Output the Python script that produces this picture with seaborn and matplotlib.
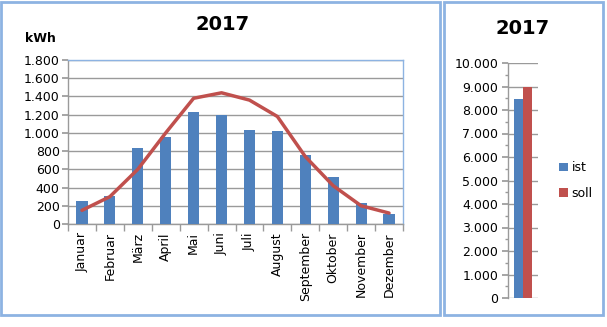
import matplotlib
matplotlib.use("Agg")
import matplotlib.pyplot as plt
import matplotlib.patches as mpatches
import seaborn as sns
import pandas as pd
import numpy as np

sns.set_theme(style="white")
plt.rcParams['font.family'] = ['DejaVu Sans']
plt.rcParams['text.color'] = 'black'
plt.rcParams['xtick.color'] = 'black'
plt.rcParams['ytick.color'] = 'black'

months = ["Januar", "Februar", "März", "April", "Mai", "Juni", "Juli",
          "August", "September", "Oktober", "November", "Dezember"]
ist = [250, 310, 835, 960, 1225, 1200, 1030, 1025, 760, 520, 230, 110]
soll = [150, 300, 600, 1000, 1380, 1440, 1360, 1180, 740, 420, 200, 120]
total_labels = ["ist", "soll"]
total_values = [8480, 8960]
title = "2017"
unit = "kWh"

BLUE = "#4F81BD"
RED = "#C0504D"
FRAME = "#8DB3E2"
GRID = "#9A9A9A"

W, H = 607, 327
fig = plt.figure(figsize=(W / 100, H / 100), dpi=100)

def fx(x):
    return x / W

def fy(y):
    return 1 - y / H

# frames
fig.patches.append(mpatches.Rectangle((fx(1.5), fy(315)), fx(438.5), (315 - 1.5) / H,
                                      transform=fig.transFigure, fill=False,
                                      edgecolor=FRAME, linewidth=2))
fig.patches.append(mpatches.Rectangle((fx(443.5), fy(315)), fx(159.5), (315 - 1.5) / H,
                                      transform=fig.transFigure, fill=False,
                                      edgecolor=FRAME, linewidth=2))

def fmt(v):
    return f"{int(v):,}".replace(",", ".")

# left chart
ax = fig.add_axes([fx(68), fy(224), fx(403 - 68), (224 - 60) / H])
df = pd.DataFrame({"Monat": months, "ist": ist, "soll": soll})
sns.barplot(data=df, x="Monat", y="ist", color=BLUE, width=0.4, ax=ax,
            saturation=1, linewidth=0, zorder=3)
sns.lineplot(x=np.arange(len(months)), y=soll, color=RED, linewidth=2.5, ax=ax,
             zorder=4)
ax.set_ylim(0, 1800)
ax.set_xlim(-0.5, len(months) - 0.5)
ax.set_yticks(range(0, 1801, 200))
ax.set_yticklabels([fmt(v) for v in range(0, 1801, 200)], fontsize=9)
ax.set_xticks(range(len(months)))
ax.set_xticklabels(months, rotation=90, fontsize=9)
ax.tick_params(axis="x", length=0, pad=6)
ax.tick_params(axis="y", length=4, color=GRID, left=True, pad=2)
ax.set_xticks(np.arange(-0.5, len(months), 1), minor=True)
ax.tick_params(axis="x", which="minor", length=5, color=GRID, bottom=True)
ax.grid(axis="y", color=GRID, linewidth=1, zorder=0)
ax.set_axisbelow(True)
ax.set_xlabel("")
ax.set_ylabel("")
for s in ["top", "right"]:
    ax.spines[s].set_color(FRAME)
    ax.spines[s].set_linewidth(1)
for s in ["left", "bottom"]:
    ax.spines[s].set_color(GRID)
    ax.spines[s].set_linewidth(1)
fig.text(fx(223), fy(25), title, ha="center", va="center", fontsize=14,
         fontweight="bold")
fig.text(fx(40), fy(39), unit, ha="center", va="center", fontsize=9,
         fontweight="bold")

# right chart
ax2 = fig.add_axes([fx(508), fy(298), fx(30), (298 - 63) / H])
dt = pd.DataFrame({"k": ["2017", "2017"], "art": total_labels, "v": total_values})
sns.barplot(data=dt, x="k", y="v", hue="art", palette=[BLUE, RED], width=0.58,
            ax=ax2, saturation=1, linewidth=0, zorder=3)
ax2.set_ylim(0, 10000)
ax2.set_xlim(-0.5, 0.5)
ax2.set_yticks(range(0, 10001, 1000))
ax2.set_yticklabels([fmt(v) for v in range(0, 10001, 1000)], fontsize=9)
ax2.set_yticks(range(500, 10000, 1000), minor=True)
ax2.tick_params(axis="y", which="major", length=4, color=GRID, left=True, pad=3)
ax2.tick_params(axis="y", which="minor", length=2, color=GRID, left=True)
ax2.set_xticks([])
ax2.grid(axis="y", which="major", color=GRID, linewidth=1, zorder=0)
ax2.set_axisbelow(True)
ax2.set_xlabel("")
ax2.set_ylabel("")
for s in ["top", "right", "bottom"]:
    ax2.spines[s].set_visible(False)
ax2.spines["left"].set_color(GRID)
ax2.spines["left"].set_linewidth(1)
ax2.legend(loc="center left", bbox_to_anchor=((554 - 508) / 30, 0.5),
           frameon=False, fontsize=9, handlelength=0.7, handleheight=0.7,
           handletextpad=0.3, labelspacing=1.0, borderaxespad=0)
fig.text(fx(523), fy(28), title, ha="center", va="center", fontsize=14,
         fontweight="bold")

fig.savefig("out.png", dpi=100)
